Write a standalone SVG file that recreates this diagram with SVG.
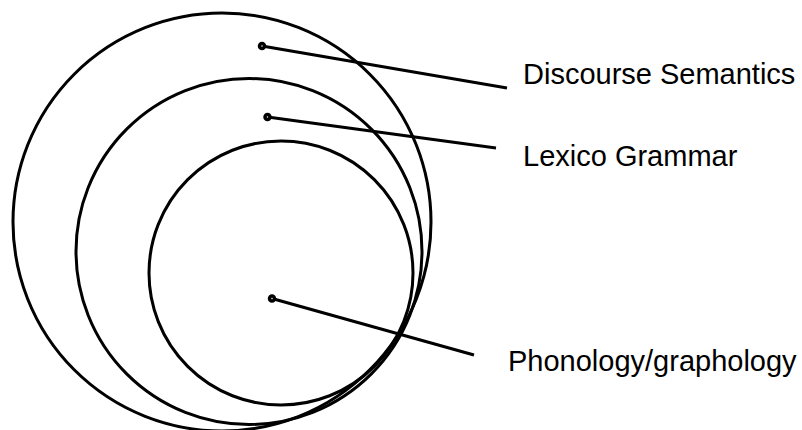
<svg xmlns="http://www.w3.org/2000/svg" width="802" height="430" viewBox="0 0 802 430">
<style>
.ring{fill:none;stroke:#000;stroke-width:3}
.lead{stroke:#000;stroke-width:3;fill:none}
.dot{fill:#fff;stroke:#000;stroke-width:3.5}
.lbl{font-family:"Liberation Sans",Arial,sans-serif;font-size:29px;fill:#000}
</style>
<rect width="802" height="430" fill="#fff"/>
<g id="discourse-semantics">
<circle class="ring" cx="222" cy="222" r="209"/>
</g>
<g id="lexico-grammar">
<circle class="ring" cx="249" cy="251.5" r="173"/>
</g>
<g id="phonology-graphology">
<circle class="ring" cx="281" cy="273" r="132"/>
</g>
<g id="connectors">
<line class="lead" x1="262" y1="46" x2="507" y2="88"/>
<line class="lead" x1="267.5" y1="117" x2="496" y2="148"/>
<line class="lead" x1="272" y1="298.5" x2="474" y2="355"/>
<circle class="dot" cx="262" cy="46" r="2.5"/>
<circle class="dot" cx="267.5" cy="117" r="2.5"/>
<circle class="dot" cx="272" cy="298.5" r="2.5"/>
</g>
<g id="labels">
<text class="lbl" x="523" y="84">Discourse Semantics</text>
<text class="lbl" x="523" y="166">Lexico Grammar</text>
<text class="lbl" x="508" y="371">Phonology/graphology</text>
</g>
</svg>
